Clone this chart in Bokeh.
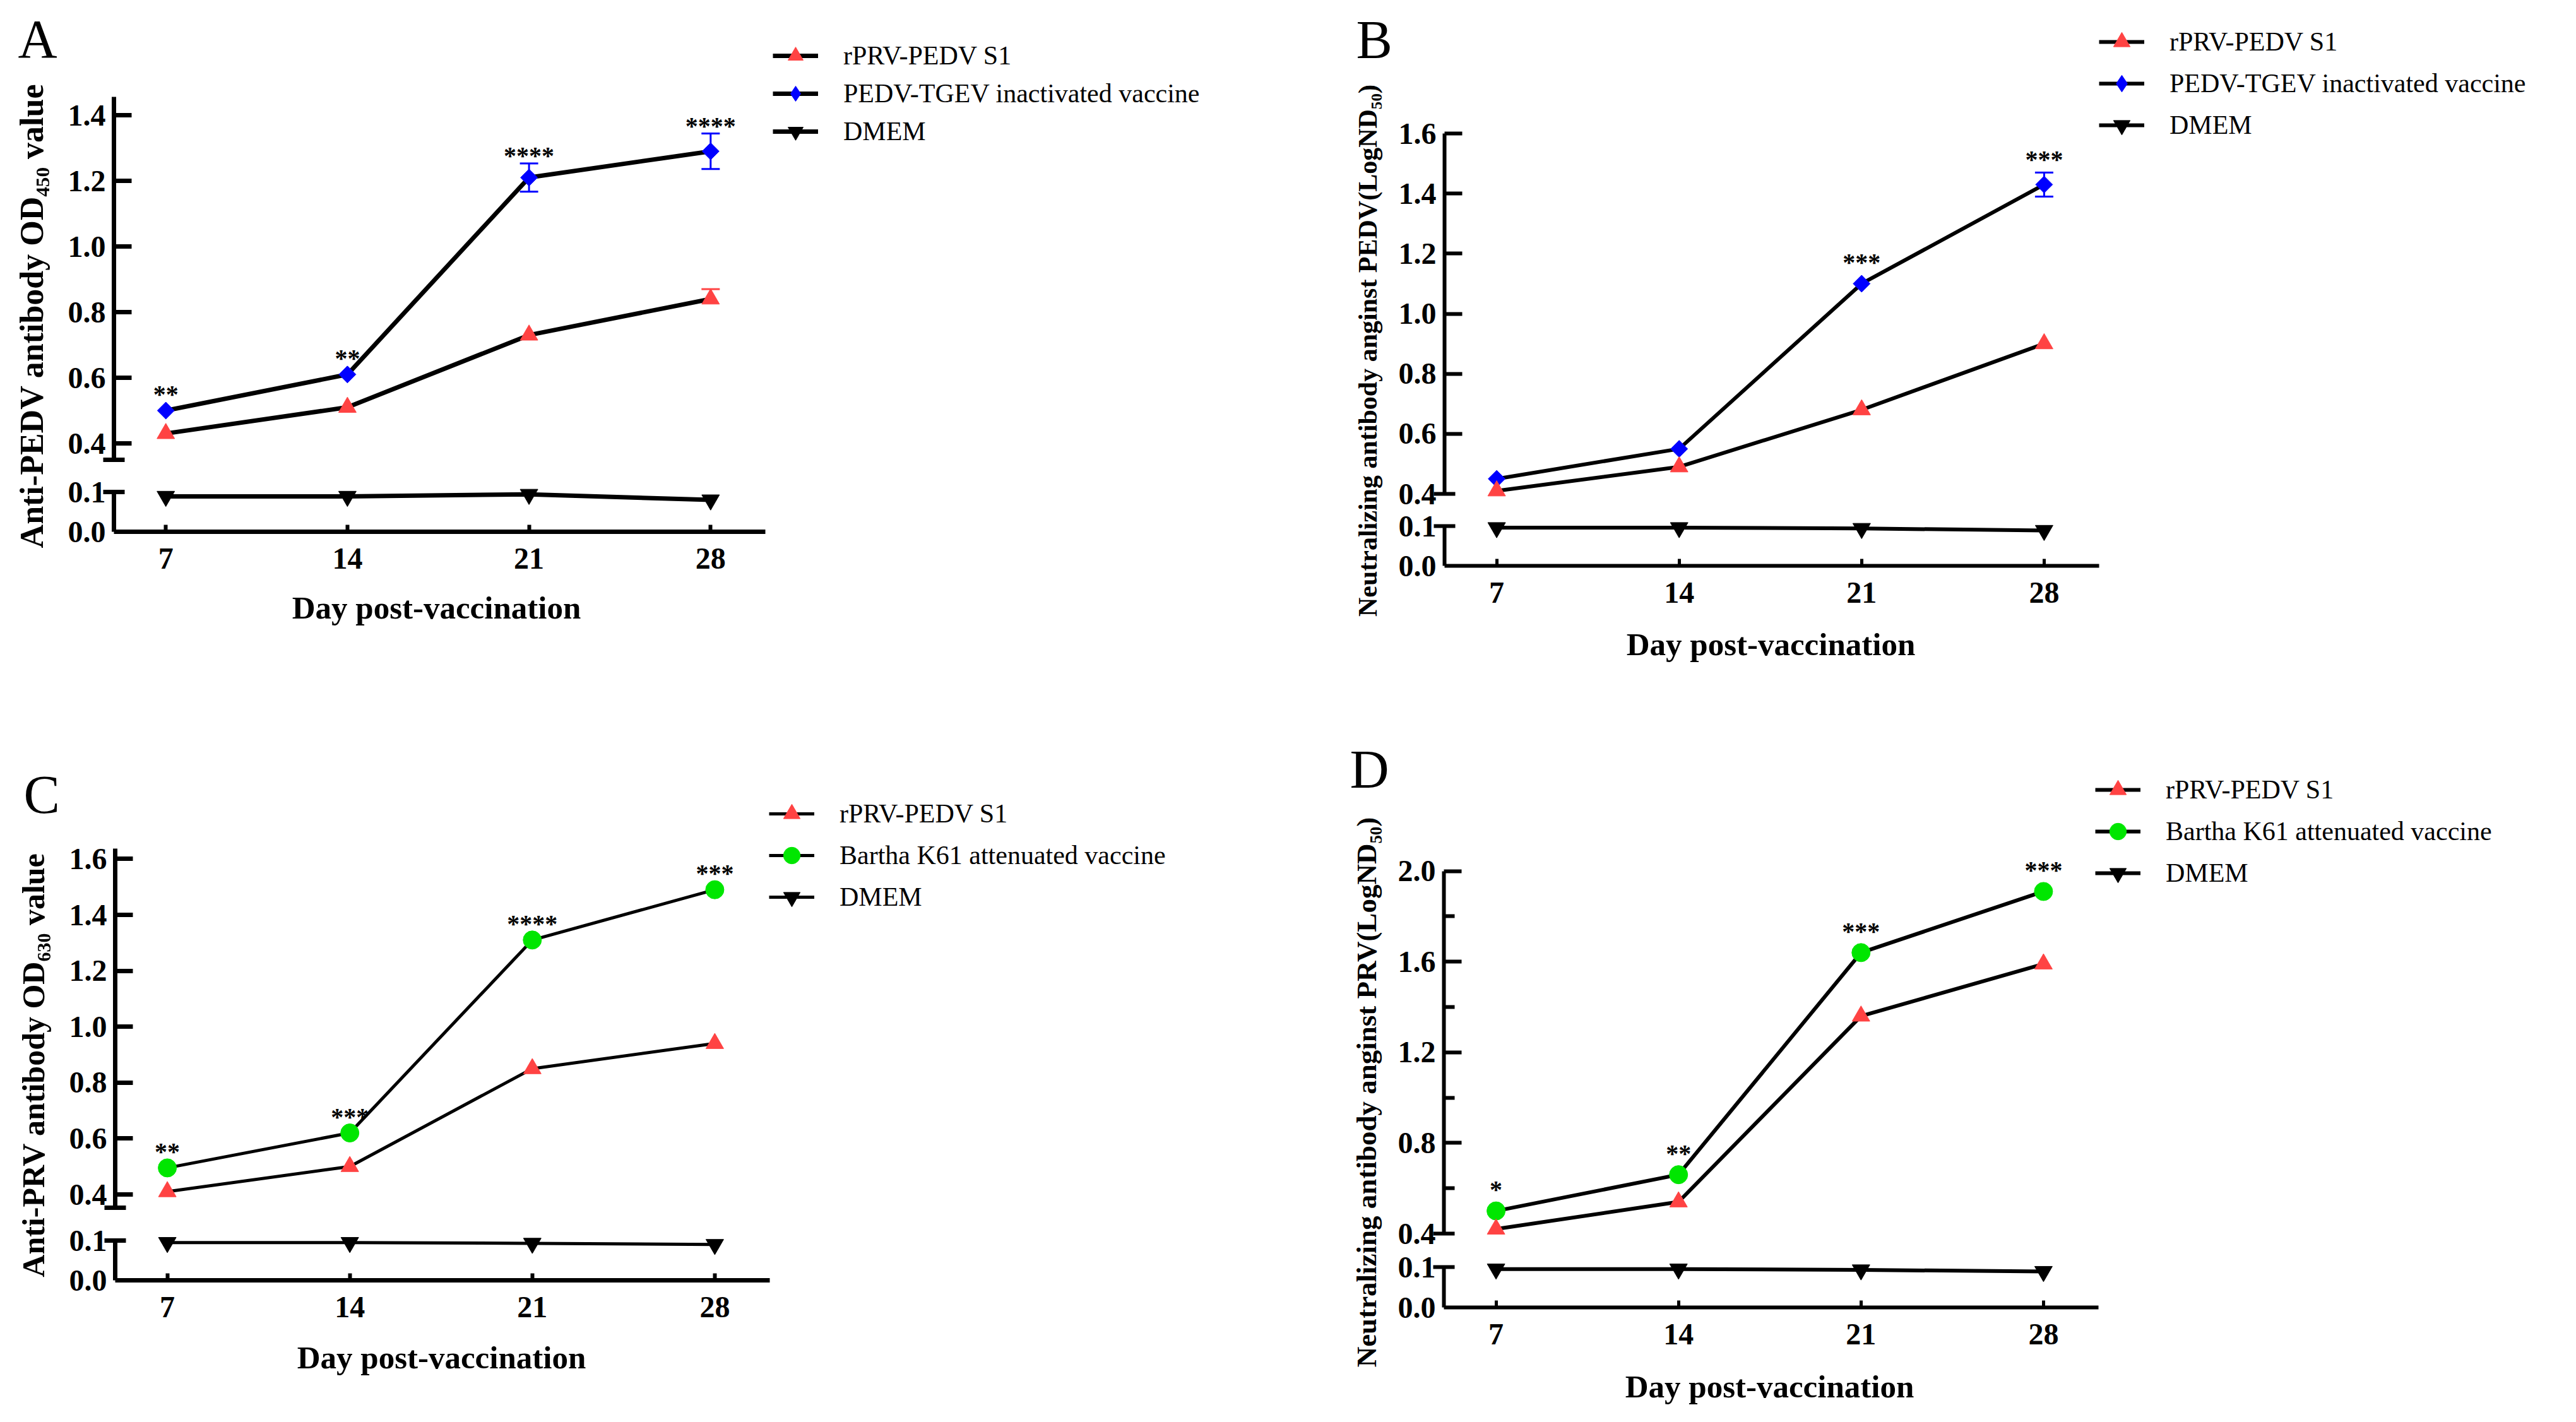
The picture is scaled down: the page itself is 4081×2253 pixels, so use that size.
import numpy as np
from bokeh.plotting import figure
from bokeh.models import (Range1d, LinearAxis, FixedTicker, Legend, LegendItem, Label,
                          Whisker, TeeHead, ColumnDataSource, NumeralTickFormatter)
from bokeh.layouts import row, column
from bokeh.core.properties import value
from bokeh.embed import file_html
from bokeh.resources import INLINE

# ---------------- data ----------------
days = [7, 14, 21, 28]
x_title = "Day post-vaccination"
lower_ticks = [0.0, 0.1]

# Panel A : anti-PEDV antibody (OD450)
a_title = "Anti-PEDV antibody OD\u2084\u2085\u2080 value"
a_names = ["rPRV-PEDV S1", "PEDV-TGEV inactivated vaccine", "DMEM"]
a_rprv = [0.43, 0.51, 0.73, 0.84]
a_rprv_sem = [0.0, 0.0, 0.0, 0.03]
a_vac = [0.50, 0.61, 1.21, 1.29]
a_vac_sem = [0.0, 0.0, 0.043, 0.054]
a_dmem = [0.089, 0.089, 0.094, 0.080]
a_sig = ["**", "**", "****", "****"]
a_yticks = [0.4, 0.6, 0.8, 1.0, 1.2, 1.4]

# Panel B : neutralizing antibody against PEDV (LogND50)
b_title = "Neutralizing antibody anginst PEDV(LogND\u2085\u2080)"
b_names = ["rPRV-PEDV S1", "PEDV-TGEV inactivated vaccine", "DMEM"]
b_rprv = [0.41, 0.49, 0.68, 0.90]
b_rprv_sem = [0.0, 0.0, 0.0, 0.0]
b_vac = [0.45, 0.55, 1.10, 1.43]
b_vac_sem = [0.0, 0.0, 0.0, 0.04]
b_dmem = [0.096, 0.096, 0.094, 0.089]
b_sig = ["", "", "***", "***"]
b_yticks = [0.4, 0.6, 0.8, 1.0, 1.2, 1.4, 1.6]

# Panel C : anti-PRV antibody (OD630)
c_title = "Anti-PRV antibody OD\u2086\u2083\u2080 value"
c_names = ["rPRV-PEDV S1", "Bartha K61 attenuated vaccine", "DMEM"]
c_rprv = [0.41, 0.50, 0.85, 0.94]
c_rprv_sem = [0.0, 0.0, 0.0, 0.0]
c_vac = [0.495, 0.62, 1.31, 1.49]
c_vac_sem = [0.0, 0.0, 0.0, 0.0]
c_dmem = [0.095, 0.095, 0.093, 0.090]
c_sig = ["**", "***", "****", "***"]
c_yticks = [0.4, 0.6, 0.8, 1.0, 1.2, 1.4, 1.6]

# Panel D : neutralizing antibody against PRV (LogND50)
d_title = "Neutralizing antibody anginst PRV(LogND\u2085\u2080)"
d_names = ["rPRV-PEDV S1", "Bartha K61 attenuated vaccine", "DMEM"]
d_rprv = [0.42, 0.54, 1.36, 1.59]
d_rprv_sem = [0.0, 0.0, 0.0, 0.0]
d_vac = [0.50, 0.66, 1.64, 1.91]
d_vac_sem = [0.0, 0.0, 0.0, 0.0]
d_dmem = [0.095, 0.095, 0.093, 0.089]
d_sig = ["*", "**", "***", "***"]
d_yticks = [0.4, 0.8, 1.2, 1.6, 2.0]
d_yminor = [0.6, 1.0, 1.4, 1.8]

# ---------------- styling ----------------
FONT = "Liberation Serif"
RED = "#FF4343"
BLUE = "#0000FF"
GREEN = "#00E600"
AXIS_X = 5  # x position (days) of the broken y axis


def make_axis(p, side, loc, ticks, lw, range_name=None, minor=None, bounds="auto",
              tick_in=0, tick_out=0, minor_in=0, minor_out=0, labels=True, line=True,
              standoff=13, tick_lw=None, fmt="0.0"):
    ax = LinearAxis(fixed_location=loc,
                    ticker=FixedTicker(ticks=ticks, minor_ticks=minor or []),
                    bounds=bounds, formatter=NumeralTickFormatter(format=fmt))
    if range_name is not None:
        ax.y_range_name = range_name
    ax.axis_line_color = "black" if line else None
    ax.axis_line_width = lw
    ax.major_tick_line_color = "black"
    ax.major_tick_line_width = tick_lw or lw
    ax.minor_tick_line_color = "black"
    ax.minor_tick_line_width = tick_lw or lw
    ax.major_tick_in = tick_in
    ax.major_tick_out = tick_out
    ax.minor_tick_in = minor_in
    ax.minor_tick_out = minor_out
    ax.major_label_standoff = standoff
    ax.major_label_text_font = FONT
    ax.major_label_text_font_style = "bold"
    ax.major_label_text_font_size = "48px"
    ax.major_label_text_color = "black" if labels else None
    p.add_layout(ax, side)
    return ax


def add_bars(p, x, m, s, color, upper_only):
    xs = [xi for xi, si in zip(x, s) if si > 0]
    if not xs:
        return
    ms = [mi for mi, si in zip(m, s) if si > 0]
    ss = [si for si in s if si > 0]
    up = [mi + si for mi, si in zip(ms, ss)]
    lo = [mi if upper_only else mi - si for mi, si in zip(ms, ss)]
    src = ColumnDataSource(dict(x=xs, upper=up, lower=lo))
    w = Whisker(source=src, base="x", upper="upper", lower="lower", y_range_name="up",
                level="underlay", line_color=color, line_width=3,
                upper_head=TeeHead(size=29, line_color=color, line_width=3),
                lower_head=None if upper_only else TeeHead(size=29, line_color=color, line_width=3))
    p.add_layout(w)


def panel(g, letter, title, names, vac_marker, vac_color,
          rprv, rprv_sem, vac, vac_sem, dmem, sig, yticks):
    fl, ft, W, H = g["left"], g["top"], g["w"], g["h"]
    fb = ft + H
    ppd = g["ppd"]
    x0 = AXIS_X - (g["axis_px"] - fl) / ppd
    x_rng = Range1d(x0, x0 + W / ppd)
    y0 = g["y0_px"]
    lo_rng = Range1d(-(fb - y0) / g["lo_ppu"], (y0 - ft) / g["lo_ppu"])
    av, ap, ppu = g["up_anchor"]
    up_rng = Range1d(av - (fb - ap) / ppu, av + (ap - ft) / ppu)

    p = figure(width=W, height=H, x_range=x_rng, y_range=lo_rng,
               x_axis_type=None, y_axis_type=None, output_backend="svg",
               toolbar_location=None, min_border=0)
    p.min_border_left = p.min_border_right = p.min_border_top = p.min_border_bottom = 0
    p.extra_y_ranges = {"up": up_rng}
    p.outline_line_color = None
    p.background_fill_color = "white"
    p.border_fill_color = "white"

    lw = g["axis_lw"]
    caps = g["caps"]
    # x axis at y = 0
    make_axis(p, "below", 0, days, lw, bounds=(AXIS_X, 30.1), tick_in=11,
              standoff=26, tick_lw=lw - 1, fmt="0")
    # upper segment: line + labels, inner ticks, break caps
    make_axis(p, "left", AXIS_X, yticks, lw, range_name="up", bounds=g["up_bounds"])
    make_axis(p, "left", AXIS_X, [t for t in yticks if t not in caps], lw,
              range_name="up", minor=g["minor"], tick_in=28, minor_in=17,
              labels=False, line=False)
    make_axis(p, "left", AXIS_X, caps, lw, range_name="up", tick_in=17, tick_out=17,
              labels=False, line=False)
    # lower segment: line + labels, break cap at 0.1
    make_axis(p, "left", AXIS_X, lower_ticks, lw, bounds=(0, 0.1))
    make_axis(p, "left", AXIS_X, [0.1], lw, tick_in=17, tick_out=17,
              labels=False, line=False)

    dlw = g["data_lw"]
    l_dmem = p.line(days, dmem, line_color="black", line_width=dlw)
    l_vac = p.line(days, vac, line_color="black", line_width=dlw, y_range_name="up")
    l_rprv = p.line(days, rprv, line_color="black", line_width=dlw, y_range_name="up")

    add_bars(p, days, vac, vac_sem, vac_color, False)
    add_bars(p, days, rprv, rprv_sem, RED, True)

    s_dmem = p.scatter(days, dmem, marker="inverted_triangle", size=28,
                       fill_color="black", line_color="black")
    if vac_marker == "diamond":
        # diamond glyph (used for the legend key), fully covered by the square-shaped diamond
        leg_vac = p.scatter(days, vac, marker="diamond", size=26,
                            fill_color=vac_color, line_color=vac_color, y_range_name="up")
        p.scatter(days, vac, marker="square", angle=np.pi / 4, size=19,
                  fill_color=vac_color, line_color=vac_color, y_range_name="up")
    else:
        leg_vac = p.scatter(days, vac, marker="circle", size=29,
                            fill_color=vac_color, line_color=vac_color, y_range_name="up")
    s_rprv = p.scatter(days, rprv, marker="triangle", size=28,
                       fill_color=RED, line_color=RED, y_range_name="up")

    # significance marks above the vaccine group
    top = [m + s for m, s in zip(vac, vac_sem)]
    yoff = [-g["star_pad_bar"] if s > 0 else -g["star_pad"] for s in vac_sem]
    ssrc = ColumnDataSource(dict(x=days, y=top, t=sig, yoff=yoff))
    p.text(x="x", y="y", text="t", source=ssrc, y_range_name="up", y_offset="yoff",
           text_align="center", text_baseline="alphabetic", text_font=value(FONT),
           text_font_style="bold", text_font_size="40px", text_color="black")

    items = [LegendItem(label=names[0], renderers=[l_rprv, s_rprv]),
             LegendItem(label=names[1], renderers=[l_vac, leg_vac]),
             LegendItem(label=names[2], renderers=[l_dmem, s_dmem])]
    gh = g["leg_gh"]
    leg = Legend(items=items,
                 location=(g["leg_left"] - fl, fb - (g["leg_top"] + 3 * gh)),
                 padding=0, spacing=0, margin=0,
                 glyph_width=72, glyph_height=gh, label_height=gh,
                 label_standoff=40, label_text_font=FONT, label_text_font_size="42px",
                 label_text_color="black",
                 border_line_color=None, background_fill_color=None)
    p.add_layout(leg)

    lx, ly = g["letter"]
    p.add_layout(Label(x=lx - fl, y=fb - ly, x_units="screen", y_units="screen", text=letter,
                       text_font=FONT, text_font_size="86px", text_align="left",
                       text_baseline="middle", text_color="black"))
    tx, ty, tsize = g["ytitle"]
    p.add_layout(Label(x=tx - fl, y=fb - ty, x_units="screen", y_units="screen", text=title,
                       angle=np.pi / 2, text_align="center", text_baseline="middle",
                       text_font=FONT, text_font_style="bold",
                       text_font_size=tsize, text_color="black"))
    cx, cy = g["xtitle"]
    p.add_layout(Label(x=cx - fl, y=fb - cy, x_units="screen", y_units="screen", text=x_title,
                       text_align="center", text_baseline="middle",
                       text_font=FONT, text_font_style="bold",
                       text_font_size="51px", text_color="black"))
    return p


GA = dict(left=0, top=0, w=2100, h=1120, axis_px=180, ppd=41.1, y0_px=842, lo_ppu=630,
          up_anchor=(0.4, 702, 520), up_bounds=(0.349, 1.456), caps=[0.35], minor=[],
          axis_lw=7, data_lw=7, leg_left=1224, leg_top=58, leg_gh=60,
          letter=(28, 61), ytitle=(50, 500, "52px"), xtitle=(691, 962),
          star_pad=26, star_pad_bar=12)
GB = dict(left=2100, top=0, w=1973, h=1120, axis_px=2288, ppd=41.3, y0_px=896, lo_ppu=630,
          up_anchor=(0.4, 782, 475.8), up_bounds=(0.4, 1.6), caps=[0.4], minor=[],
          axis_lw=6, data_lw=6, leg_left=3325, leg_top=33, leg_gh=66,
          letter=(2148, 62), ytitle=(2166, 555, "42px"), xtitle=(2805, 1020),
          star_pad=34, star_pad_bar=21)
GC = dict(left=0, top=1120, w=2100, h=1125, axis_px=182, ppd=41.3, y0_px=2028, lo_ppu=630,
          up_anchor=(0.4, 1892, 443), up_bounds=(0.352, 1.638), caps=[0.353], minor=[],
          axis_lw=7, data_lw=5, leg_left=1218, leg_top=1256, leg_gh=66,
          letter=(37, 1258), ytitle=(52, 1687, "50px"), xtitle=(699, 2150),
          star_pad=26, star_pad_bar=12)
GD = dict(left=2100, top=1120, w=1973, h=1125, axis_px=2287, ppd=41.3, y0_px=2071, lo_ppu=640,
          up_anchor=(0.4, 1954, 359), up_bounds=(0.4, 2.0), caps=[0.4], minor=d_yminor,
          axis_lw=6, data_lw=6, leg_left=3319, leg_top=1218, leg_gh=66,
          letter=(2138, 1218), ytitle=(2164, 1730, "45px"), xtitle=(2803, 2196),
          star_pad=34, star_pad_bar=12)

pA = panel(GA, "A", a_title, a_names, "diamond", BLUE,
           a_rprv, a_rprv_sem, a_vac, a_vac_sem, a_dmem, a_sig, a_yticks)
pB = panel(GB, "B", b_title, b_names, "diamond", BLUE,
           b_rprv, b_rprv_sem, b_vac, b_vac_sem, b_dmem, b_sig, b_yticks)
pC = panel(GC, "C", c_title, c_names, "circle", GREEN,
           c_rprv, c_rprv_sem, c_vac, c_vac_sem, c_dmem, c_sig, c_yticks)
pD = panel(GD, "D", d_title, d_names, "circle", GREEN,
           d_rprv, d_rprv_sem, d_vac, d_vac_sem, d_dmem, d_sig, d_yticks)

layout = column(row(pA, pB), row(pC, pD))
open("out.html", "w").write(file_html(layout, INLINE))
